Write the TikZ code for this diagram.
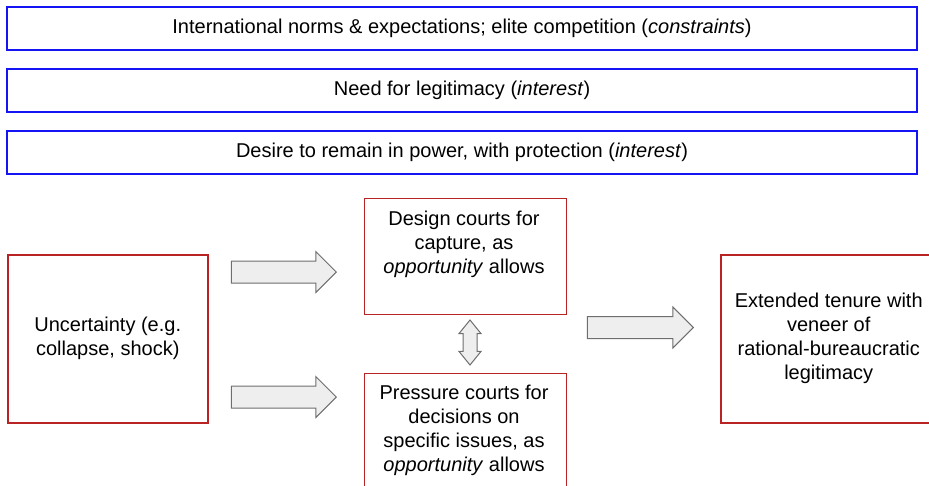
\documentclass[tikz,border=0pt]{standalone}
\usepackage{fontspec}
\setmainfont{Liberation Sans}
\usetikzlibrary{shapes.arrows}
\definecolor{bluebd}{RGB}{20,20,245}
\definecolor{redbd}{RGB}{185,35,35}
\definecolor{arrfill}{RGB}{238,238,238}
\definecolor{arrdraw}{RGB}{110,110,110}
\begin{document}
\begin{tikzpicture}[x=1pt,y=-1pt,
  every node/.style={font=\fontsize{20}{24}\selectfont, inner sep=0pt, align=center},
  bluebox/.style={draw=bluebd, line width=1.4pt, minimum width=910pt, minimum height=43pt},
  redbox/.style={draw=redbd, line width=1.5pt, anchor=north west},
  txt/.style={text=black},
  blockarrow/.style={single arrow, draw=arrdraw, fill=arrfill, line width=1pt,
     single arrow head extend=9.5pt, single arrow tip angle=90, inner xsep=0pt, inner ysep=10.5pt},
  dblarrow/.style={double arrow, draw=arrdraw, fill=arrfill, line width=1pt,
     double arrow head extend=4pt, double arrow tip angle=78, inner xsep=0pt, inner ysep=6.5pt}
]
\useasboundingbox (0,0) rectangle (929,485);
\clip (0,0) rectangle (929,485);

\node[bluebox] (c1) at (462,28.5) {International norms \& expectations; elite competition (\textit{constraints})};
\node[bluebox] (c2) at (462,90.5) {Need for legitimacy (\textit{interest})};
\node[bluebox] (c3) at (462,152.5) {Desire to remain in power, with protection (\textit{interest})};

\node[redbox, minimum width=200pt, minimum height=168pt] (unc) at (7,254) {};
\node[redbox, minimum width=202pt, minimum height=116pt] (design) at (363.5,197.5) {};
\node[redbox, minimum width=202pt, minimum height=140pt] (press) at (363.5,372.5) {};
\node[redbox, minimum width=216pt, minimum height=168pt] (ext) at (720,254) {};

\node[txt] (unct) at (unc.center) {Uncertainty (e.g.\\collapse, shock)};
\node[txt] (designt) at (464,244) {Design courts for\\capture, as\\\textit{opportunity} allows};
\node[txt] (presst) at (464,430.5) {Pressure courts for\\decisions on\\specific issues, as\\\textit{opportunity} allows};
\node[txt] (extt) at (ext.center) {Extended tenure with\\veneer of\\rational-bureaucratic\\legitimacy};

\node[blockarrow, minimum height=105pt, minimum width=39pt, anchor=tip] (a1) at (337,272) {};
\node[blockarrow, minimum height=105pt, minimum width=39pt, anchor=tip] (a2) at (337,397) {};
\node[blockarrow, minimum height=106pt, minimum width=39pt, anchor=tip] (a3) at (694,327.5) {};
\node[dblarrow, rotate=90, minimum height=45pt, minimum width=21pt] (a4) at (470,342.5) {};
\end{tikzpicture}
\end{document}
